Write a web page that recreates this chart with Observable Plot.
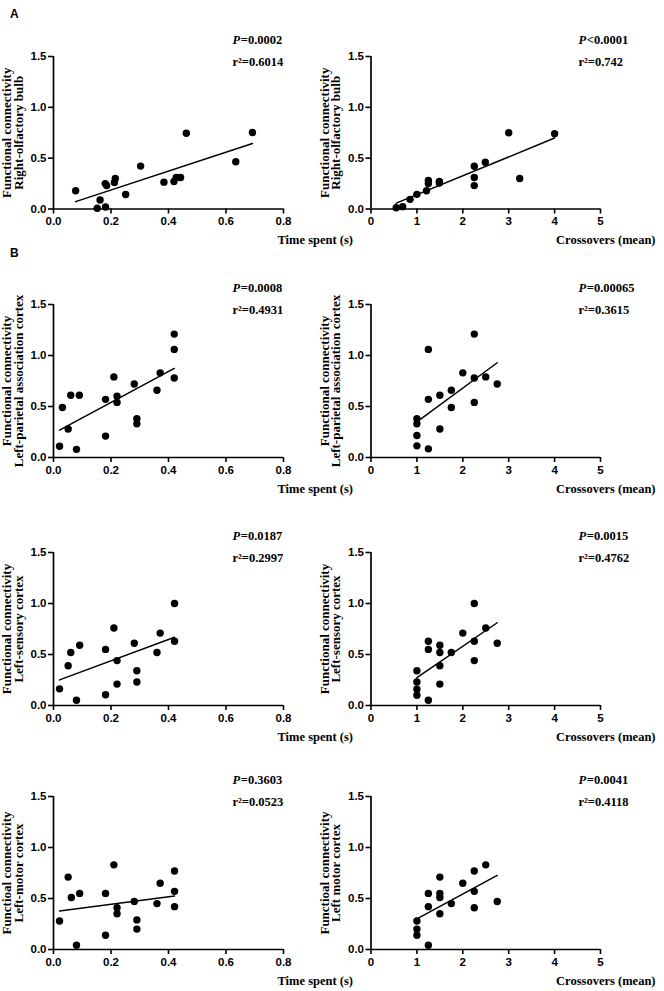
<!DOCTYPE html>
<html><head><meta charset="utf-8">
<script src="https://cdn.jsdelivr.net/npm/d3@7"></script>
<script src="https://cdn.jsdelivr.net/npm/@observablehq/plot@0.6"></script>
<style>
body{margin:0;background:#fff;}
#wrap{position:relative;width:664px;height:991px;background:#fff;overflow:hidden;}
.panel{position:absolute;}
.tag{position:absolute;font:bold 12px "Liberation Sans",Arial,sans-serif;line-height:1;color:#000;}
</style></head><body>
<div id="wrap"><div class="tag" style="left:10px;top:8px">A</div><div class="tag" style="left:10px;top:247px">B</div></div>
<script>
// ---- tick values ----
const timeTicks = [0, 0.2, 0.4, 0.6, 0.8];
const crossTicks = [0, 1, 2, 3, 4, 5];
const yTicks = [0, 0.5, 1.0, 1.5];

// ---- A: right olfactory bulb ----
const olfTimeX = [0.077, 0.152, 0.162, 0.181, 0.180, 0.185, 0.212, 0.215, 0.251, 0.303, 0.384, 0.419, 0.427, 0.442, 0.462, 0.634, 0.692];
const olfTimeY = [0.18, 0.007, 0.089, 0.02, 0.25, 0.23, 0.26, 0.30, 0.142, 0.422, 0.264, 0.27, 0.31, 0.31, 0.745, 0.465, 0.752];
const olfCrossX = [0.55, 0.69, 0.85, 1.0, 1.21, 1.25, 1.25, 1.49, 1.49, 2.25, 2.25, 2.25, 2.49, 3.0, 3.24, 4.0];
const olfCrossY = [0.013, 0.023, 0.095, 0.144, 0.18, 0.28, 0.25, 0.27, 0.255, 0.42, 0.31, 0.23, 0.46, 0.75, 0.30, 0.74];

// ---- B1: left parietal association cortex ----
const parTimeX = [0.021, 0.031, 0.051, 0.06, 0.08, 0.09, 0.181, 0.181, 0.21, 0.221, 0.221, 0.281, 0.29, 0.29, 0.36, 0.371, 0.42, 0.42, 0.42];
const parTimeY = [0.111, 0.49, 0.28, 0.61, 0.08, 0.61, 0.57, 0.21, 0.79, 0.60, 0.54, 0.72, 0.38, 0.33, 0.66, 0.83, 1.21, 1.06, 0.78];
const parCrossX = [1.0, 1.0, 1.0, 1.0, 1.25, 1.25, 1.25, 1.5, 1.5, 1.75, 1.75, 2.0, 2.25, 2.25, 2.25, 2.5, 2.75];
const parCrossY = [0.38, 0.33, 0.215, 0.114, 1.06, 0.57, 0.085, 0.61, 0.28, 0.66, 0.49, 0.83, 1.21, 0.78, 0.54, 0.79, 0.72];

// ---- B2: left sensory cortex ----
const senTimeX = [0.021, 0.051, 0.06, 0.08, 0.091, 0.181, 0.181, 0.21, 0.221, 0.221, 0.281, 0.29, 0.29, 0.36, 0.371, 0.421, 0.421];
const senTimeY = [0.163, 0.39, 0.52, 0.052, 0.59, 0.55, 0.105, 0.76, 0.44, 0.21, 0.61, 0.34, 0.23, 0.52, 0.71, 1.0, 0.63];
const senCrossX = [1.0, 1.0, 1.0, 1.0, 1.25, 1.25, 1.25, 1.5, 1.5, 1.5, 1.5, 1.75, 2.0, 2.25, 2.25, 2.25, 2.5, 2.75];
const senCrossY = [0.34, 0.23, 0.16, 0.10, 0.63, 0.55, 0.052, 0.59, 0.52, 0.39, 0.21, 0.52, 0.71, 1.0, 0.63, 0.44, 0.76, 0.61];

// ---- B3: left motor cortex ----
const motTimeX = [0.021, 0.051, 0.062, 0.08, 0.091, 0.181, 0.181, 0.21, 0.221, 0.221, 0.281, 0.29, 0.29, 0.36, 0.371, 0.421, 0.421, 0.421];
const motTimeY = [0.28, 0.71, 0.51, 0.042, 0.55, 0.55, 0.14, 0.83, 0.41, 0.35, 0.47, 0.29, 0.20, 0.45, 0.65, 0.77, 0.57, 0.42];
const motCrossX = [1.0, 1.0, 1.0, 1.25, 1.25, 1.25, 1.5, 1.5, 1.5, 1.5, 1.75, 2.0, 2.25, 2.25, 2.25, 2.5, 2.75];
const motCrossY = [0.28, 0.20, 0.14, 0.55, 0.42, 0.042, 0.71, 0.55, 0.51, 0.35, 0.45, 0.65, 0.77, 0.57, 0.41, 0.83, 0.47];

// ---- labels ----
const yLine1 = ["Functional connectivity", "Functional connectivity", "Functional connectivity", "Functioal connectivity"];
const yLine2Left = ["Right-olfactory bulb", "Left-parietal association cortex", "Left-sensory cortex", "Left-motor cortex"];
const yLine2Right = ["Right-olfactory bulb", "Left-parietal association cortex", "Left-sensory cortex", "Left motor cortex"];
const pLeft = ["=0.0002", "=0.0008", "=0.0187", "=0.3603"];
const r2Left = ["r²=0.6014", "r²=0.4931", "r²=0.2997", "r²=0.0523"];
const pRight = ["<0.0001", "=0.00065", "=0.0015", "=0.0041"];
const r2Right = ["r²=0.742", "r²=0.3615", "r²=0.4762", "r²=0.4118"];
const xLabels = ["Time spent (s)", "Crossovers (mean)"];

const rowsFrame = [[56, 208.5], [304, 457], [552.3, 705.3], [796, 949]];
const serif = "'Liberation Serif', 'Times New Roman', serif";

function panel(xs, ys, side, row) {
  const data = xs.map((x, i) => ({x, y: ys[i]}));
  const left = side === "left";
  const [top, bottom] = rowsFrame[row];
  const svgLeft = left ? 0 : 300;
  const width = left ? 360 : 364;
  const frameL = left ? 53 : 370.5;
  const frameR = left ? 283 : 600;
  const mTop = 40, mBottom = 50;
  const height = (bottom - top) + mTop + mBottom;
  const pdx = left ? -51 : -22;
  const xDomain = left ? [0, 0.8] : [0, 5];
  const tstyle = {fontFamily: serif, fontWeight: "bold", fill: "black"};
  const chart = Plot.plot({
    width, height,
    marginLeft: frameL - svgLeft, marginRight: svgLeft + width - frameR,
    marginTop: mTop, marginBottom: mBottom,
    style: {background: "transparent", overflow: "visible", fontFamily: "'Liberation Sans', Arial, sans-serif", fontSize: "11px", fontWeight: "bold", color: "black"},
    x: {domain: xDomain, axis: null},
    y: {domain: [0, 1.5], axis: null},
    marks: [
      Plot.axisX({ticks: left ? timeTicks : crossTicks, tickFormat: left ? d3.format(".1f") : d3.format("d"), tickSize: 5, tickPadding: 3, strokeWidth: 1.6, label: null, fontWeight: "bold", fontSize: 11.5, fill: "black"}),
      Plot.axisY({ticks: yTicks, tickFormat: d3.format(".1f"), tickSize: 5, tickPadding: 2, strokeWidth: 1.6, label: null, fontWeight: "bold", fontSize: 11.5, fill: "black"}),
      Plot.ruleY([0], {strokeWidth: 1.7, stroke: "black"}),
      Plot.ruleX([0], {strokeWidth: 1.7, stroke: "black"}),
      Plot.linearRegressionY(data, {x: "x", y: "y", ci: 0, stroke: "black", strokeWidth: 1.5}),
      Plot.dot(data, {x: "x", y: "y", r: 3.7, fill: "black", stroke: "none"}),
      Plot.text(["P"], {frameAnchor: "top-right", dx: pdx, dy: -17, textAnchor: "start", lineAnchor: "middle", fontSize: 12.5, fontStyle: "italic", ...tstyle}),
      Plot.text([left ? pLeft[row] : pRight[row]], {frameAnchor: "top-right", dx: pdx + 8.3, dy: -17, textAnchor: "start", lineAnchor: "middle", fontSize: 12.5, ...tstyle}),
      Plot.text([left ? r2Left[row] : r2Right[row]], {frameAnchor: "top-right", dx: pdx, dy: 5, textAnchor: "start", lineAnchor: "middle", fontSize: 12.5, ...tstyle}),
      Plot.text([yLine1[row]], {frameAnchor: "left", rotate: -90, dx: -46.5, textAnchor: "middle", lineAnchor: "middle", fontSize: 13, ...tstyle}),
      Plot.text([left ? yLine2Left[row] : yLine2Right[row]], {frameAnchor: "left", rotate: -90, dx: -35, textAnchor: "middle", lineAnchor: "middle", fontSize: 13, ...tstyle}),
      Plot.text([left ? xLabels[0] : xLabels[1]], {frameAnchor: "bottom-right", dx: left ? -6 : 55, dy: 31, textAnchor: left ? "start" : "end", lineAnchor: "middle", fontSize: 12.5, ...tstyle})
    ]
  });
  const div = document.createElement("div");
  div.className = "panel";
  div.style.left = svgLeft + "px";
  div.style.top = (top - mTop) + "px";
  div.appendChild(chart);
  document.getElementById("wrap").appendChild(div);
}

panel(olfTimeX, olfTimeY, "left", 0);
panel(olfCrossX, olfCrossY, "right", 0);
panel(parTimeX, parTimeY, "left", 1);
panel(parCrossX, parCrossY, "right", 1);
panel(senTimeX, senTimeY, "left", 2);
panel(senCrossX, senCrossY, "right", 2);
panel(motTimeX, motTimeY, "left", 3);
panel(motCrossX, motCrossY, "right", 3);
</script>
</body></html>
